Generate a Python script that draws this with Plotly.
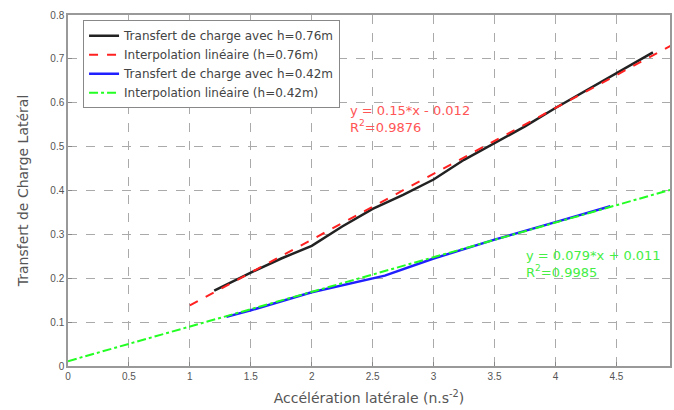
import plotly.graph_objects as go

# h = 0.76 m measured
x_h76 = [1.2, 1.3, 1.5, 1.75, 2.0, 2.25, 2.5, 2.75, 3.0, 3.25, 3.5, 3.75, 4.0, 4.25, 4.5, 4.8]
y_h76 = [0.172, 0.186, 0.213, 0.245, 0.274, 0.318, 0.358, 0.390, 0.425, 0.470, 0.508, 0.546, 0.588, 0.628, 0.668, 0.715]
# linear fit h = 0.76 m
x_fit76 = [1.0, 4.95]
y_fit76 = [0.138, 0.7305]
# h = 0.42 m measured
x_h42 = [1.3, 1.5, 2.0, 2.5, 2.6, 3.0, 3.5, 4.0, 4.45]
y_h42 = [0.112, 0.127, 0.168, 0.200, 0.206, 0.245, 0.288, 0.328, 0.364]
# linear fit h = 0.42 m
x_fit42 = [0.0, 4.95]
y_fit42 = [0.011, 0.402]

x_ticks = [0, 0.5, 1, 1.5, 2, 2.5, 3, 3.5, 4, 4.5]
y_ticks = [0, 0.1, 0.2, 0.3, 0.4, 0.5, 0.6, 0.7, 0.8]

font = "Liberation Sans, Arial, sans-serif"
wide = "DejaVu Sans, Verdana, sans-serif"
fig = go.Figure()
fig.add_trace(go.Scatter(x=x_h76, y=y_h76, mode="lines", name="Transfert de charge avec h=0.76m",
                         line=dict(color="#222222", width=2.5)))
fig.add_trace(go.Scatter(x=x_fit76, y=y_fit76, mode="lines", name="Interpolation linéaire (h=0.76m)",
                         line=dict(color="#ff2020", width=2, dash="dash")))
fig.add_trace(go.Scatter(x=x_h42, y=y_h42, mode="lines", name="Transfert de charge avec h=0.42m",
                         line=dict(color="#2020ff", width=2.5)))
fig.add_trace(go.Scatter(x=x_fit42, y=y_fit42, mode="lines", name="Interpolation linéaire (h=0.42m)",
                         line=dict(color="#22ff22", width=2, dash="dashdot")))

grid = dict(showgrid=True, gridcolor="#aaaaaa", griddash="dash", gridwidth=1,
            showline=True, linecolor="#999999", linewidth=1.5, mirror=True,
            ticks="inside", ticklen=4, tickcolor="#888888", zeroline=False,
            tickfont=dict(size=10, color="#555555", family=font))
fig.update_xaxes(range=[0, 4.94], tickvals=x_ticks, ticktext=[str(t) for t in x_ticks],
                 title=dict(text="Accélération latérale (n.s<sup>-2</sup>)", font=dict(size=14, color="#555555", family=wide), standoff=12),
                 **grid)
fig.update_yaxes(range=[0, 0.8], tickvals=y_ticks, ticktext=[str(t) for t in y_ticks],
                 title=dict(text="Transfert de Charge Latéral", font=dict(size=14, color="#555555", family=wide), standoff=18),
                 **grid)

fig.add_annotation(x=0.465, y=0.705, xref="paper", yref="paper", xanchor="left", yanchor="middle",
                   showarrow=False, align="left",
                   text="y = 0.15*x - 0.012<br>R<sup>2</sup>=0.9876", font=dict(size=13, color="#ff5555", family=wide))
fig.add_annotation(x=0.758, y=0.29, xref="paper", yref="paper", xanchor="left", yanchor="middle",
                   showarrow=False, align="left",
                   text="y = 0.079*x + 0.011<br>R<sup>2</sup>=0.9985", font=dict(size=13, color="#44ee44", family=wide))

fig.update_layout(width=674, height=410, margin=dict(l=68, r=2, t=15, b=44),
                  plot_bgcolor="white", paper_bgcolor="white",
                  legend=dict(x=0.025, y=0.985, xanchor="left", yanchor="top", bgcolor="white",
                              bordercolor="#888888", borderwidth=1, font=dict(size=12, color="#444444", family=wide),
                              tracegroupgap=0, itemwidth=30),
                  )
fig.write_html("out.html")
